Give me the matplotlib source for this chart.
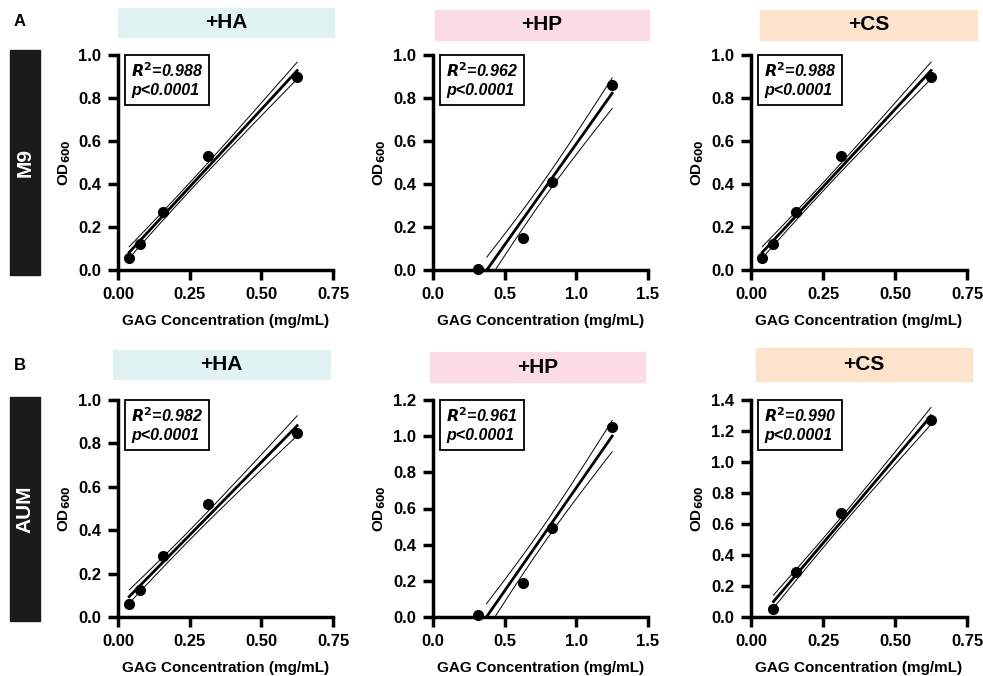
import numpy as np
import matplotlib
matplotlib.use("Agg")
import matplotlib.pyplot as plt
from matplotlib.patches import Rectangle

plt.rcParams['font.family'] = ['Liberation Sans', 'DejaVu Sans']
plt.rcParams['font.weight'] = 'bold'

W, H = 983, 676

# GAG concentrations (mg/mL)
conc_low = [0.039, 0.078, 0.156, 0.3125, 0.625]
conc_hp = [0.3125, 0.625, 0.83, 1.25]
conc_cs_aum = [0.078, 0.156, 0.3125, 0.625]

# OD600 means
m9_ha = [0.055, 0.12, 0.27, 0.53, 0.90]
m9_hp = [0.005, 0.15, 0.41, 0.86]
m9_cs = [0.055, 0.12, 0.27, 0.53, 0.90]
aum_ha = [0.06, 0.125, 0.28, 0.52, 0.85]
aum_hp = [0.01, 0.19, 0.49, 1.05]
aum_cs = [0.05, 0.29, 0.67, 1.27]

r2_labels = ['0.988', '0.962', '0.988', '0.982', '0.961', '0.990']
headers = ['+HA', '+HP', '+CS']
header_colors = ['#e0f2f1', '#fbdbe6', '#fde3cb']
rows = ['M9', 'AUM']
n_rep = 3  # replicates per concentration
t95 = {10: 2.228, 13: 2.160}

panels = [
    (conc_low, m9_ha, (0, 0.75), [0, 0.25, 0.5, 0.75], (0, 1.0), np.arange(0, 1.01, 0.2)),
    (conc_hp, m9_hp, (0, 1.5), [0, 0.5, 1.0, 1.5], (0, 1.0), np.arange(0, 1.01, 0.2)),
    (conc_low, m9_cs, (0, 0.75), [0, 0.25, 0.5, 0.75], (0, 1.0), np.arange(0, 1.01, 0.2)),
    (conc_low, aum_ha, (0, 0.75), [0, 0.25, 0.5, 0.75], (0, 1.0), np.arange(0, 1.01, 0.2)),
    (conc_hp, aum_hp, (0, 1.5), [0, 0.5, 1.0, 1.5], (0, 1.2), np.arange(0, 1.21, 0.2)),
    (conc_cs_aum, aum_cs, (0, 0.75), [0, 0.25, 0.5, 0.75], (0, 1.4), np.arange(0, 1.41, 0.2)),
]

# axes boxes in pixels (x0, y0, x1, y1)
col_x = [(118, 333), (433, 648), (751, 967)]
row_y = [(55, 270), (400, 617)]
head_boxes = [
    [(118, 8, 334, 37), (435, 10, 649, 40), (760, 10, 977, 40)],
    [(113, 350, 330, 379), (430, 352, 645, 382), (756, 348, 972, 381)],
]
side_boxes = [(10, 50, 40, 275), (10, 397, 40, 621)]
letters = [('A', 20, 22), ('B', 20, 366)]


def frac(x0, y0, x1, y1):
    return [x0 / W, 1 - y1 / H, (x1 - x0) / W, (y1 - y0) / H]


def fit_ci(x, y):
    x = np.repeat(np.asarray(x, float), n_rep)
    y = np.repeat(np.asarray(y, float), n_rep)
    a, b = np.polyfit(x, y, 1)
    n = len(x)
    s = np.sqrt(np.sum((y - (a * x + b)) ** 2) / (n - 2))
    sxx = np.sum((x - x.mean()) ** 2)
    x0 = max(x.min(), -b / a)
    xs = np.linspace(x0, x.max(), 200)
    yf = a * xs + b
    half = t95[n - 2] * s * np.sqrt(1 / n + (xs - x.mean()) ** 2 / sxx)
    return xs, yf, yf - half, yf + half


fig = plt.figure(figsize=(W / 100, H / 100), dpi=100)

for i, (x, y, xlim, xt, ylim, yt) in enumerate(panels):
    r, c = divmod(i, 3)
    ax = fig.add_axes(frac(col_x[c][0], row_y[r][0], col_x[c][1], row_y[r][1]))
    xs, yf, lo, hi = fit_ci(x, y)
    ax.plot(xs, np.where(hi >= 0, hi, np.nan), color='black', lw=0.7)
    ax.plot(xs, np.where(lo >= 0, lo, np.nan), color='black', lw=0.7)
    ax.plot(xs, yf, color='black', lw=2.0)
    ax.plot(x, y, 'o', color='black', ms=7, clip_on=False, zorder=5)
    ax.set_xlim(*xlim)
    ax.set_ylim(*ylim)
    ax.set_xticks(xt)
    ax.set_yticks(yt)
    if xlim[1] == 0.75:
        ax.set_xticklabels(['0.00', '0.25', '0.50', '0.75'])
    else:
        ax.set_xticklabels(['0.0', '0.5', '1.0', '1.5'])
    ax.set_yticklabels([f'{v:.1f}' for v in yt])
    for side in ['top', 'right']:
        ax.spines[side].set_visible(False)
    for side in ['left', 'bottom']:
        ax.spines[side].set_linewidth(2.5)
    ax.tick_params(width=2.5, length=7, labelsize=12, pad=5)
    for lab in ax.get_xticklabels() + ax.get_yticklabels():
        lab.set_fontweight('bold')
    ax.set_xlabel('GAG Concentration (mg/mL)', fontsize=11, fontweight='bold', labelpad=9)
    ax.set_ylabel('OD$_{\\mathbf{600}}$', fontsize=11, fontweight='bold', labelpad=4)
    ax.text(0.06, 0.97, f'$\\mathbfit{{R}}^{{\\mathbf{{2}}}}$=' + r2_labels[i] + '\np<0.0001',
            transform=ax.transAxes, ha='left', va='top', fontsize=11.5,
            fontweight='bold', style='italic', linespacing=1.25,
            bbox=dict(boxstyle='square,pad=0.4', fc='white', ec='black', lw=1.3))

for r in range(2):
    for c in range(3):
        x0, y0, x1, y1 = head_boxes[r][c]
        fig.patches.append(Rectangle((x0 / W, 1 - y1 / H), (x1 - x0) / W, (y1 - y0) / H,
                                     transform=fig.transFigure, color=header_colors[c], zorder=0))
        fig.text((x0 + x1) / 2 / W, 1 - (y0 + y1) / 2 / H, headers[c], ha='center', va='center',
                 fontsize=15, fontweight='bold')
    x0, y0, x1, y1 = side_boxes[r]
    fig.patches.append(Rectangle((x0 / W, 1 - y1 / H), (x1 - x0) / W, (y1 - y0) / H,
                                 transform=fig.transFigure, color='#1a1a1a', zorder=0))
    fig.text((x0 + x1) / 2 / W, 1 - (y0 + y1) / 2 / H, rows[r], ha='center', va='center',
             rotation=90, fontsize=15, fontweight='bold', color='white')

for t, x, y in letters:
    fig.text(x / W, 1 - y / H, t, ha='center', va='center', fontsize=12, fontweight='bold')

fig.savefig('out.png', dpi=100)
